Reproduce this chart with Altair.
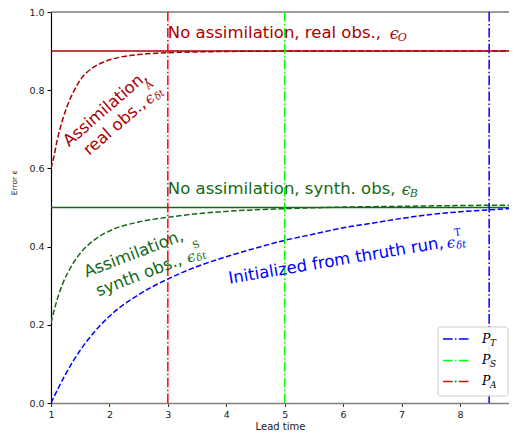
import altair as alt
import pandas as pd

# ---------------- data ----------------
lead_red = [1.0, 1.05, 1.1, 1.2, 1.3, 1.4, 1.5, 1.7, 1.9, 2.2, 2.5, 3.0, 3.5, 4.0, 5.0, 6.0, 7.0, 8.0, 9.0]
err_red = [0.600, 0.630, 0.668, 0.725, 0.768, 0.800, 0.826, 0.856, 0.872, 0.885, 0.891, 0.896, 0.898, 0.899,
           0.900, 0.900, 0.900, 0.900, 0.900]

lead_green = [1.0, 1.1, 1.2, 1.35, 1.5, 1.75, 2.0, 2.5, 3.0, 3.5, 4.0, 5.0, 6.0, 7.0, 8.0, 9.0]
err_green = [0.205, 0.262, 0.305, 0.350, 0.383, 0.418, 0.440, 0.463, 0.475, 0.484, 0.490, 0.497, 0.501,
             0.503, 0.505, 0.506]

lead_blue = [1.0, 1.25, 1.5, 1.75, 2.0, 2.5, 3.0, 3.5, 4.0, 4.5, 5.0, 5.5, 6.0, 6.5, 7.0, 7.5, 8.0, 8.5, 9.0]
err_blue = [0.0, 0.074, 0.135, 0.183, 0.222, 0.277, 0.317, 0.349, 0.374, 0.396, 0.416, 0.432, 0.448, 0.460,
            0.472, 0.482, 0.489, 0.494, 0.499]

level_eps_O = 0.9
level_eps_B = 0.5

period_names = ["P_T", "P_S", "P_A"]
period_lead = [8.5, 5.0, 3.0]
period_sub = ["T", "S", "A"]

x_ticks = [1, 2, 3, 4, 5, 6, 7, 8, 9]
y_ticks = [0.0, 0.2, 0.4, 0.6, 0.8, 1.0]

# ---------------- styles ----------------
DARKRED = "#aa0000"
DARKGREEN = "#156815"
BLUE = "#0000ff"
period_colors = ["#0000ff", "#00ff00", "#ff0000"]
SANS = "DejaVu Sans"
SERIF = "DejaVu Serif"
FS = 16.5
DASHDOT = [9.6, 2.4, 1.5, 2.4]

W, H = 458, 391

xs = alt.Scale(domain=[1, 8.84], nice=False, zero=False)
ys = alt.Scale(domain=[0, 1], nice=False, zero=False)

xaxis = alt.Axis(values=x_ticks, format="d", title="Lead time", grid=False,
                 domainColor="#808080", domainWidth=1.3, tickColor="#333333", tickSize=3.5,
                 labelPadding=3, labelFontSize=9.5, labelColor="#222222", labelFont=SANS,
                 titleFont=SANS, titleFontSize=10, titleFontWeight="normal", titleColor="#222222",
                 titlePadding=2, labelFlush=False)
yaxis = alt.Axis(values=y_ticks, format=".1f", title="Error ϵ", grid=False,
                 domainColor="#000000", domainWidth=1.2, tickColor="#000000", tickSize=4,
                 labelPadding=3, labelFontSize=9.5, labelColor="#222222", labelFont=SANS,
                 titleFont=SANS, titleFontSize=7.5, titleFontWeight="normal", titleColor="#222222",
                 titleX=-33, titleY=170, titleAngle=270, labelFlush=False)


def X(field):
    return alt.X(field, type="quantitative", scale=xs, axis=xaxis)


def Y(field):
    return alt.Y(field, type="quantitative", scale=ys, axis=yaxis)


def curve(lead, err, color):
    df = pd.DataFrame({"lead": lead, "err": err})
    return alt.Chart(df).mark_line(color=color, strokeWidth=1.5, strokeDash=[5.5, 2.4],
                                   interpolate="monotone", clip=True).encode(x=X("lead"), y=Y("err"))


def hline(value, color, width=1.5):
    return alt.Chart(pd.DataFrame({"err": [value]})).mark_rule(color=color, strokeWidth=width).encode(y=Y("err"))


def vline(value, color):
    return alt.Chart(pd.DataFrame({"lead": [value]})).mark_rule(
        color=color, strokeWidth=1.5, strokeDash=DASHDOT).encode(x=X("lead"))


def label(x, y, text, color, size=FS, angle=0, dx=0, dy=0, align="left", font=SANS, style="normal"):
    df = pd.DataFrame({"lead": [x], "err": [y], "txt": [text]})
    kw = dict(color=color, fontSize=size, dx=dx, dy=dy, align=align, baseline="middle",
              font=font, fontStyle=style)
    if angle:
        kw["angle"] = angle % 360
    return alt.Chart(df).mark_text(**kw).encode(x=X("lead"), y=Y("err"), text="txt:N")


layers = []

# top frame line
layers.append(hline(1.0, "#808080", 1.3))

# reference (no assimilation) levels
layers.append(hline(level_eps_O, DARKRED))
layers.append(hline(level_eps_B, DARKGREEN))

# curves
layers.append(curve(lead_red, err_red, DARKRED))
layers.append(curve(lead_green, err_green, DARKGREEN))
layers.append(curve(lead_blue, err_blue, BLUE))

# vertical period lines
for v, c in zip(period_lead, period_colors):
    layers.append(vline(v, c))

# ---------- annotations ----------
# No assimilation, real obs.
layers.append(label(3.0, 0.946, "No assimilation, real obs.,", DARKRED))
layers.append(label(3.0, 0.946, "ϵ", DARKRED, size=16, dx=222, dy=1, font=SERIF, style="italic"))
layers.append(label(3.0, 0.946, "O", DARKRED, size=11, dx=230, dy=5, font=SERIF, style="italic"))

# No assimilation, synth. obs
layers.append(label(3.0, 0.5465, "No assimilation, synth. obs,", DARKGREEN))
layers.append(label(3.0, 0.5465, "ϵ", DARKGREEN, size=16, dx=234, dy=1, font=SERIF, style="italic"))
layers.append(label(3.0, 0.5465, "B", DARKGREEN, size=11, dx=242, dy=5, font=SERIF, style="italic"))

# Assimilation, real obs. (rotated)
ra = (1.93, 0.752)
RA = -41
layers.append(label(*ra, "Assimilation,", DARKRED, angle=RA, align="center"))
layers.append(label(*ra, "real obs.,", DARKRED, angle=RA, align="center", dx=-5, dy=20))
layers.append(label(*ra, "ϵ", DARKRED, size=15, angle=RA, dx=36, dy=21, font=SERIF, style="italic"))
layers.append(label(*ra, "A", DARKRED, size=10, angle=RA, dx=45, dy=11, font=SERIF))
layers.append(label(*ra, "δt", DARKRED, size=10, angle=RA, dx=45, dy=25, font=SERIF, style="italic"))

# Assimilation, synth obs. (rotated)
ga = (2.418, 0.381)
GA = -21
layers.append(label(*ga, "Assimilation,", DARKGREEN, angle=GA, align="center"))
layers.append(label(*ga, "synth obs.,", DARKGREEN, angle=GA, align="center", dx=-3, dy=22))
layers.append(label(*ga, "ϵ", DARKGREEN, size=15, angle=GA, dx=48, dy=23, font=SERIF, style="italic"))
layers.append(label(*ga, "S", DARKGREEN, size=10, angle=GA, dx=58, dy=14, font=SERIF))
layers.append(label(*ga, "δt", DARKGREEN, size=10, angle=GA, dx=57, dy=27, font=SERIF, style="italic"))

# Initialized from truth run (rotated)
ba = (4.041, 0.3177)
layers.append(label(*ba, "Initialized from thruth run,", BLUE, angle=-9.5))
layers.append(label(*ba, "ϵ", BLUE, size=15, angle=-9.5, dx=221, dy=1, font=SERIF, style="italic"))
layers.append(label(*ba, "T", BLUE, size=10, angle=-9.5, dx=230, dy=-8, font=SERIF))
layers.append(label(*ba, "δt", BLUE, size=10, angle=-9.5, dx=230, dy=5, font=SERIF, style="italic"))

# ---------- legend (boxed key in the lower right) ----------
one = pd.DataFrame({"k": [0]})
LX = 387
layers.append(alt.Chart(one).mark_rect(fill="white", fillOpacity=0.9, stroke="#cccccc", strokeWidth=1,
                                       cornerRadius=3).encode(
    x=alt.value(LX), x2=alt.value(LX + 70), y=alt.value(315), y2=alt.value(384)))
legend_rows_y = [327, 348.4, 369.4]
for nm, col, sub, yy in zip(period_names, period_colors, period_sub, legend_rows_y):
    layers.append(alt.Chart(one).mark_rule(color=col, strokeWidth=1.5, strokeDash=DASHDOT).encode(
        x=alt.value(LX + 5), x2=alt.value(LX + 32), y=alt.value(yy)))
    layers.append(alt.Chart(one).mark_text(text="P", font=SERIF, fontStyle="italic", fontSize=12.5,
                                           color="#000000", align="left", baseline="middle").encode(
        x=alt.value(LX + 44), y=alt.value(yy)))
    layers.append(alt.Chart(one).mark_text(text=sub, font=SERIF, fontStyle="italic", fontSize=9,
                                           color="#000000", align="left", baseline="middle").encode(
        x=alt.value(LX + 52), y=alt.value(yy + 4)))

chart = alt.layer(*layers).properties(
    width=W, height=H,
    autosize=alt.AutoSizeParams(type="none"),
    padding={"left": 43, "top": 4, "right": 0, "bottom": 27},
).configure_view(stroke=None).configure(background="white")

chart.save("out.html", embed_options={"renderer": "svg", "actions": False})
